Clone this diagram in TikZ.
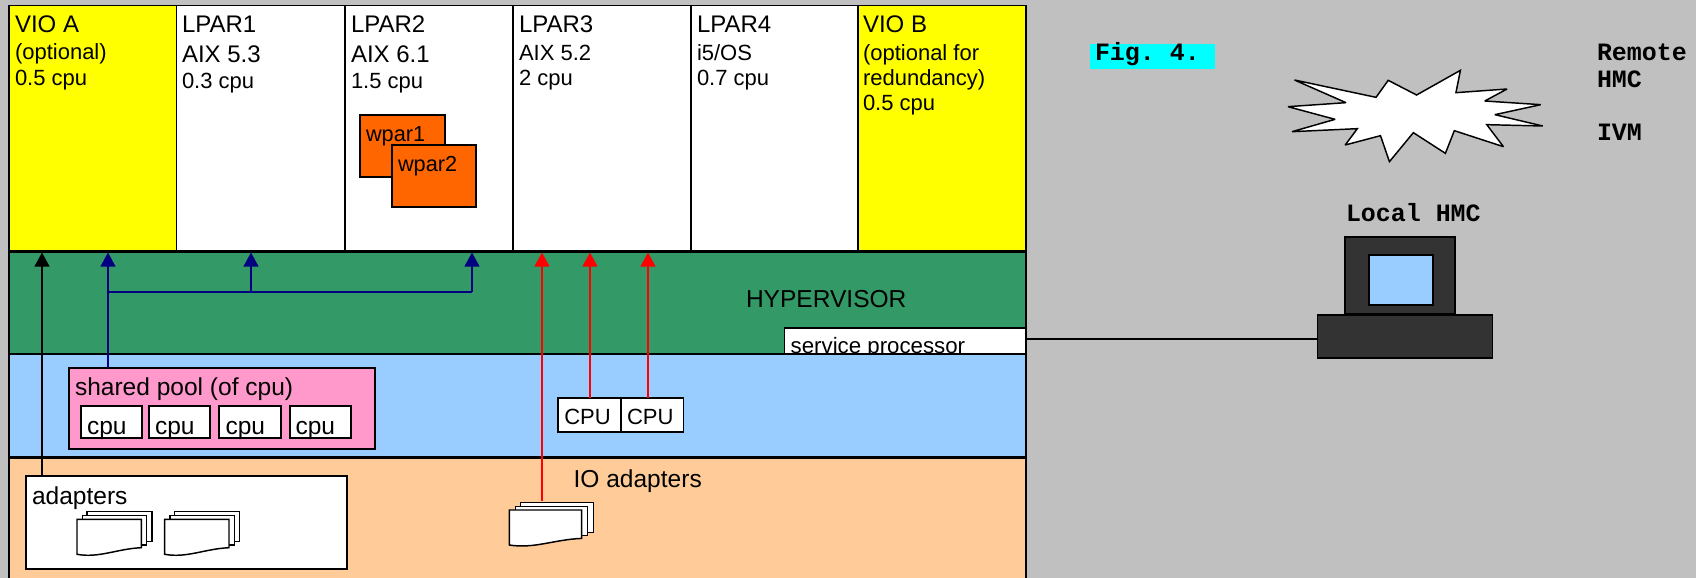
\documentclass[tikz,border=0pt]{standalone}
\usepackage{fontspec}
\setmainfont{Liberation Sans}
\setmonofont{Liberation Mono}
\usetikzlibrary{arrows.meta}
\definecolor{bggray}{HTML}{C0C0C0}
\definecolor{hvgreen}{HTML}{339966}
\definecolor{skyblue}{HTML}{99CCFF}
\definecolor{peach}{HTML}{FFCC99}
\definecolor{poolpink}{HTML}{FF99CC}
\definecolor{wparorange}{HTML}{FF6600}
\definecolor{arrownavy}{HTML}{000080}
\definecolor{darkbox}{HTML}{333333}
\definecolor{pureyellow}{RGB}{255,255,0}
\definecolor{purecyan}{RGB}{0,255,255}
\definecolor{purered}{RGB}{255,0,0}
% box by corners, in reference pixels
\newcommand{\pxbox}[6]{\node[rectangle,draw=black,line width=1.25pt,inner sep=0pt,outer sep=0pt,#2,
  minimum width={((#5)-(#3))*0.75pt},minimum height={((#6)-(#4))*0.75pt}] (#1) at ({((#3)+(#5))/2},{((#4)+(#6))/2}) {};}
\newcommand{\fs}[1]{\fontsize{#1}{#1}\selectfont}
\tikzset{
  lab/.style={anchor=base west,inner sep=0pt,outer sep=0pt,text=black,font=\fs{18pt}},
  labm/.style={lab,font=\fs{18.4pt}},
  labs/.style={lab,font=\fs{16.5pt}},
  mono/.style={anchor=base west,inner sep=0pt,outer sep=0pt,text=black,font=\fs{18.7pt}\ttfamily\bfseries},
  arrowblack/.style={draw=black,line width=1.5pt,-{Triangle[length=10.5pt,width=11pt]}},
  arrowblue/.style={draw=arrownavy,line width=1.5pt,-{Triangle[length=10.5pt,width=11pt]}},
  arrowred/.style={draw=purered,line width=1.5pt,-{Triangle[length=10.5pt,width=11pt]}},
  pics/docstack/.style={code={
    \draw[fill=white,draw=black,line width=1.1pt] (10,-7.6) rectangle (75,22.4);
    \draw[fill=white,draw=black,line width=1.1pt] (5.3,-3.6) rectangle (69.7,25.7);
    \draw[fill=white,draw=black,line width=1.1pt] (0,0) -- (64.3,0) -- (64.3,28.4)
      .. controls (40,29.5) and (22,39) .. (0,35) -- cycle;
  }}
}
\begin{document}
\begin{tikzpicture}[x=0.75pt,y=-0.75pt]
\path[use as bounding box,fill=bggray] (0,0) rectangle (1696,578);
% partitions
\pxbox{vioa}{fill=pureyellow}{9}{5.5}{176.5}{251.5}
\pxbox{lpara}{fill=white}{176.5}{5.5}{345}{251.5}
\pxbox{lparb}{fill=white}{345}{5.5}{513}{251.5}
\pxbox{lparc}{fill=white}{513}{5.5}{691}{251.5}
\pxbox{lpard}{fill=white}{691}{5.5}{858}{251.5}
\pxbox{viob}{fill=pureyellow}{858}{5.5}{1026}{251.5}
% layers
\pxbox{hyper}{fill=hvgreen}{9}{251.5}{1026}{354}
\pxbox{svc}{fill=white}{784.6}{327.7}{1026}{354}
\node[lab,font=\fs{16.7pt}] (svct) at (790.7,353.5) {service processor};
\pxbox{cpulayer}{fill=skyblue}{9}{354}{1026}{457.5}
\pxbox{iolayer}{fill=peach,line width=2.2pt}{9}{457.5}{1026}{584}
\draw[black,line width=2.2pt] (cpulayer.south west) -- (cpulayer.south east);
\draw[black,line width=1.8pt] (hyper.north west) -- (hyper.north east);
% partition labels
\node[lab] (t1) at (15,32.7) {VIO A};
\node[labs] (t2) at (15,59) {(optional)};
\node[labs] (t3) at (15,85) {0.5 cpu};
\node[lab] (t4) at (182,32.7) {LPAR1};
\node[lab] (t5) at (182,62) {AIX 5.3};
\node[labs] (t6) at (182,88) {0.3 cpu};
\node[lab] (t7) at (351,32.7) {LPAR2};
\node[lab] (t8) at (351,62) {AIX 6.1};
\node[labs] (t9) at (351,88) {1.5 cpu};
\node[lab] (t10) at (519,32.7) {LPAR3};
\node[labs] (t11) at (519,60) {AIX 5.2};
\node[labs] (t12) at (519,85) {2 cpu};
\node[lab] (t13) at (697,32.7) {LPAR4};
\node[labs] (t14) at (697,60) {i5/OS};
\node[labs] (t15) at (697,85) {0.7 cpu};
\node[lab] (t16) at (863,32.7) {VIO B};
\node[labs] (t17) at (863,60) {(optional for};
\node[labs] (t18) at (863,85) {redundancy)};
\node[labs] (t19) at (863,110.7) {0.5 cpu};
% wpars
\pxbox{wparA}{fill=wparorange}{360}{115}{445}{177}
\node[lab,font=\fs{16.3pt}] (wparAt) at (366,141) {wpar1};
\pxbox{wparB}{fill=wparorange}{392}{145}{476}{207}
\node[lab,font=\fs{16.3pt}] (wparBt) at (398,171) {wpar2};
% hypervisor text
\node[labm] (hypert) at (746,307.7) {HYPERVISOR};
% shared pool
\pxbox{pool}{fill=poolpink}{69}{368}{375}{449.3}
\node[labm] (poolt) at (75,395) {shared pool (of cpu)};
\pxbox{pa}{fill=white}{81}{405.7}{142}{438}
\pxbox{pb}{fill=white}{149}{405.7}{210}{438}
\pxbox{pc}{fill=white}{219}{405.7}{281}{438}
\pxbox{pd}{fill=white}{290}{405.7}{351}{438}
\node[labm] (pat) at (87,434) {cpu};
\node[labm] (pbt) at (155,434) {cpu};
\node[labm] (pct) at (225.5,434) {cpu};
\node[labm] (pdt) at (295.5,434) {cpu};
% dedicated cpus
\pxbox{ca}{fill=white}{558}{398}{621}{432.3}
\pxbox{cb}{fill=white}{621}{398}{683.6}{432.3}
\node[labs] (cat) at (564.3,424) {CPU};
\node[labs] (cbt) at (627,424) {CPU};
% adapters
\pxbox{adapters}{fill=white}{26}{476}{347.3}{568.7}
\node[labm] (adapterst) at (32,504) {adapters};
\node[labm] (iot) at (573.6,487) {IO adapters};
% arrows
\coordinate (tipA) at (42,252.5);
\coordinate (tipB) at (108,252.5);
\coordinate (tipC) at (251,252.5);
\coordinate (tipD) at (472,252.5);
\coordinate (tipE) at (542,252.5);
\coordinate (tipF) at (590,252.5);
\coordinate (tipG) at (648,252.5);
\coordinate (busL) at (108,292);
\coordinate (iotop) at (542,501);
\draw[arrowblack] (adapters.north -| tipA) -- (tipA);
\draw[arrowblue] (pool.north -| tipB) -- (tipB);
\draw[arrownavy,line width=1.5pt] (busL) -- (busL -| tipD);
\draw[arrowblue] (busL -| tipC) -- (tipC);
\draw[arrowblue] (busL -| tipD) -- (tipD);
\draw[arrowred] (iotop) -- (tipE);
\draw[arrowred] (ca.north -| tipF) -- (tipF);
\draw[arrowred] (cb.north -| tipG) -- (tipG);
% adapter cards
\pic (docA) at (77,519.3) {docstack};
\pic (docB) at (164.7,519.3) {docstack};
\pic[xscale=1.125] (docC) at (509.3,510) {docstack};
% right side
\node[rectangle,fill=purecyan,inner sep=0pt,outer sep=0pt,minimum width={124.6*0.75pt},minimum height={25.3*0.75pt}] (figbox) at (1152.3,56.65) {};
\node[mono] (figt) at (1095,60.7) {Fig. 4.};
\node[mono] (rem) at (1597,60.7) {Remote};
\node[mono] (hmc) at (1597,87.7) {HMC};
\node[mono] (ivm) at (1597,140.7) {IVM};
\begin{scope}[shift={(1060,20)},x=0.30426pt,y=-0.25pt]
\draw[fill=white,draw=black,line width=1.1pt,line join=miter,miter limit=3]
 (578,180)--(705,248)--(562,260)--(678,298)--(572,335)--(733,326)--(703,375)--(790,347)--(812,425)--(871,338)--(950,400)--(972,332)--(1093,380)--(1052,314)--(1190,318)--(1072,284)--(1185,254)--(1047,243)--(1102,207)--(976,218)--(987,151)--(879,225)--(809,181)--(779,232)--cycle;
\end{scope}
\node[mono] (localt) at (1346,221) {Local HMC};
\pxbox{monitor}{fill=darkbox}{1345}{236.7}{1455}{313.5}
\pxbox{screen}{fill=skyblue}{1368.7}{255}{1432.8}{305}
\pxbox{pcbase}{fill=darkbox}{1317.6}{315}{1492.5}{358}
\coordinate (linkL) at (1026,339);
\draw[black,line width=1.5pt] (linkL) -- (linkL -| pcbase.west);
\end{tikzpicture}
\end{document}
